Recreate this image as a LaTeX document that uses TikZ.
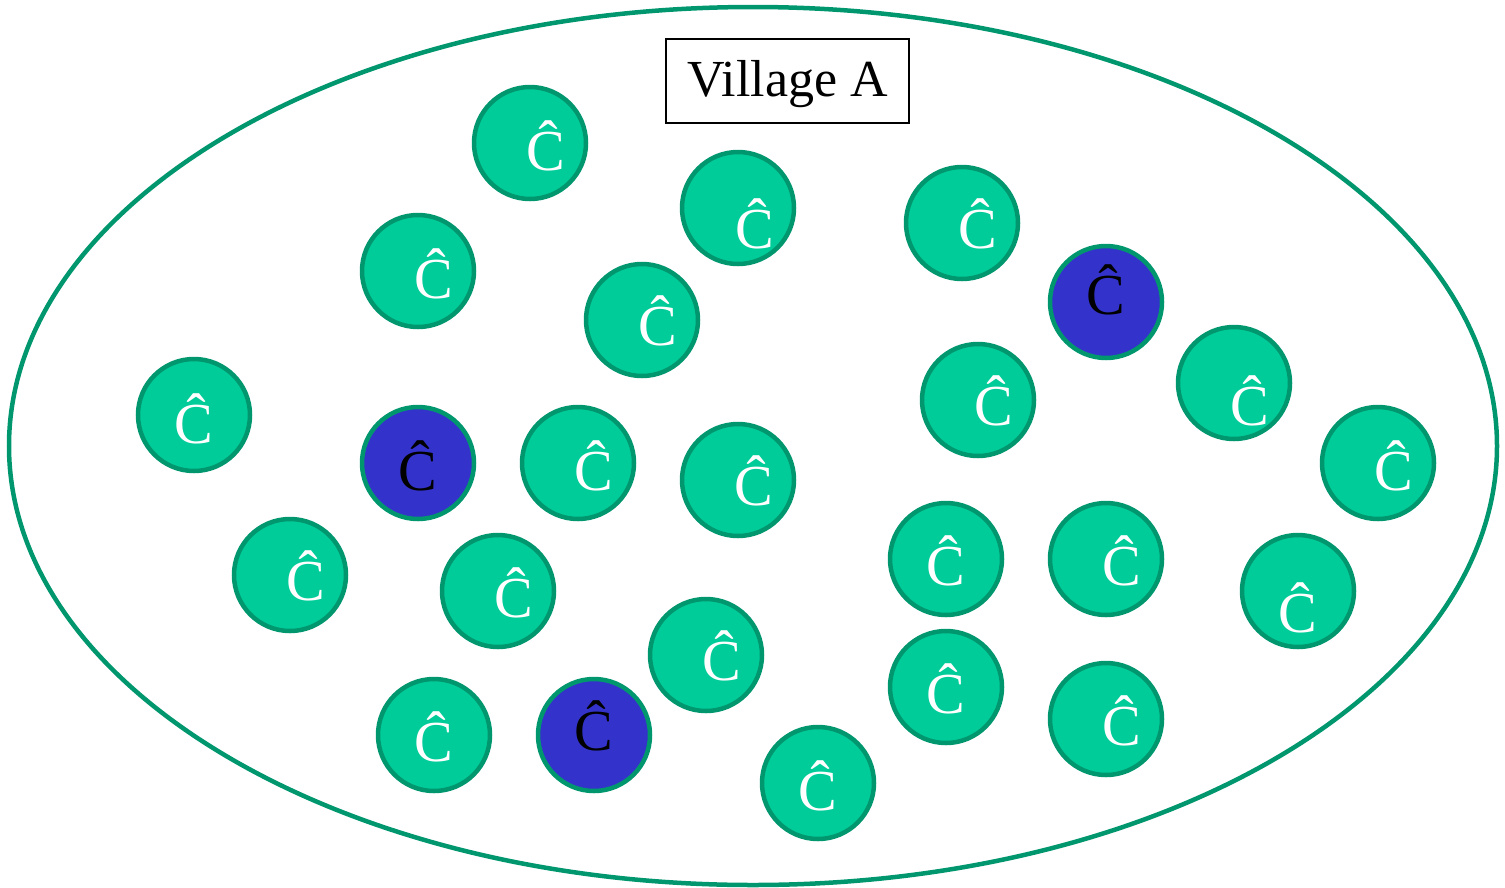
\documentclass[tikz,border=0pt]{standalone}
\usepackage{fontspec}
\usetikzlibrary{shapes.geometric}
\setmainfont{Liberation Serif}
\definecolor{ringgreen}{RGB}{0,150,110}
\definecolor{fillgreen}{RGB}{0,204,153}
\definecolor{fillblue}{RGB}{51,51,204}
\tikzset{
  person/.style={circle, draw=ringgreen, line width=4.5pt, fill=fillgreen, minimum size=112pt, inner sep=0pt},
  blueperson/.style={person, fill=fillblue},
  wlab/.style={text=white, font=\fontsize{58}{68}\selectfont, inner sep=0pt},
  blab/.style={text=black, font=\fontsize{58}{68}\selectfont, inner sep=0pt},
}
\begin{document}
\begin{tikzpicture}[x=1pt,y=-1pt]
\useasboundingbox (0,0) rectangle (1505,887);
\node[ellipse, draw=ringgreen, line width=4.5pt, minimum width=1488pt, minimum height=878pt, inner sep=0pt] (village) at (753,446) {};
\node[draw=black, line width=1.5pt, minimum width=243pt, minimum height=84pt, inner sep=0pt] (title) at (787.5,81) {};
\node[font=\fontsize{52}{62}\selectfont, inner sep=0pt] (title-t) at (787.5,84) {Village A};
% green circles: name, center, label position
\foreach \n/\cx/\cy/\tx/\ty in {
  g1/530/143/546/146, g2/418/271/434/274, g3/738/208/755/224, g4/642/320/658/321,
  g5/962/223/978/224, g7/978/400/994/401, g8/1234/383/1250/401, g9/1378/463/1394/466,
  g10/194/415/194/419, g12/578/463/594/466, g13/738/480/754/481, g14/290/575/306/576,
  g15/498/591/514/593, g16/946/559/946/561, g17/1106/559/1122/561, g18/1298/591/1298/608,
  g19/706/655/722/656, g20/946/687/946/689, g21/1106/719/1122/721, g22/434/735/434/737,
  g24/818/783/818/786} {
  \node[person] (\n) at (\cx,\cy) {};
  \node[wlab] (\n-t) at (\tx,\ty) {Ĉ};
}
\foreach \n/\cx/\cy/\tx/\ty in {
  b6/1106/302/1106/290, b11/418/463/418/466, b23/594/735/594/726} {
  \node[blueperson] (\n) at (\cx,\cy) {};
  \node[blab] (\n-t) at (\tx,\ty) {Ĉ};
}
\end{tikzpicture}
\end{document}
